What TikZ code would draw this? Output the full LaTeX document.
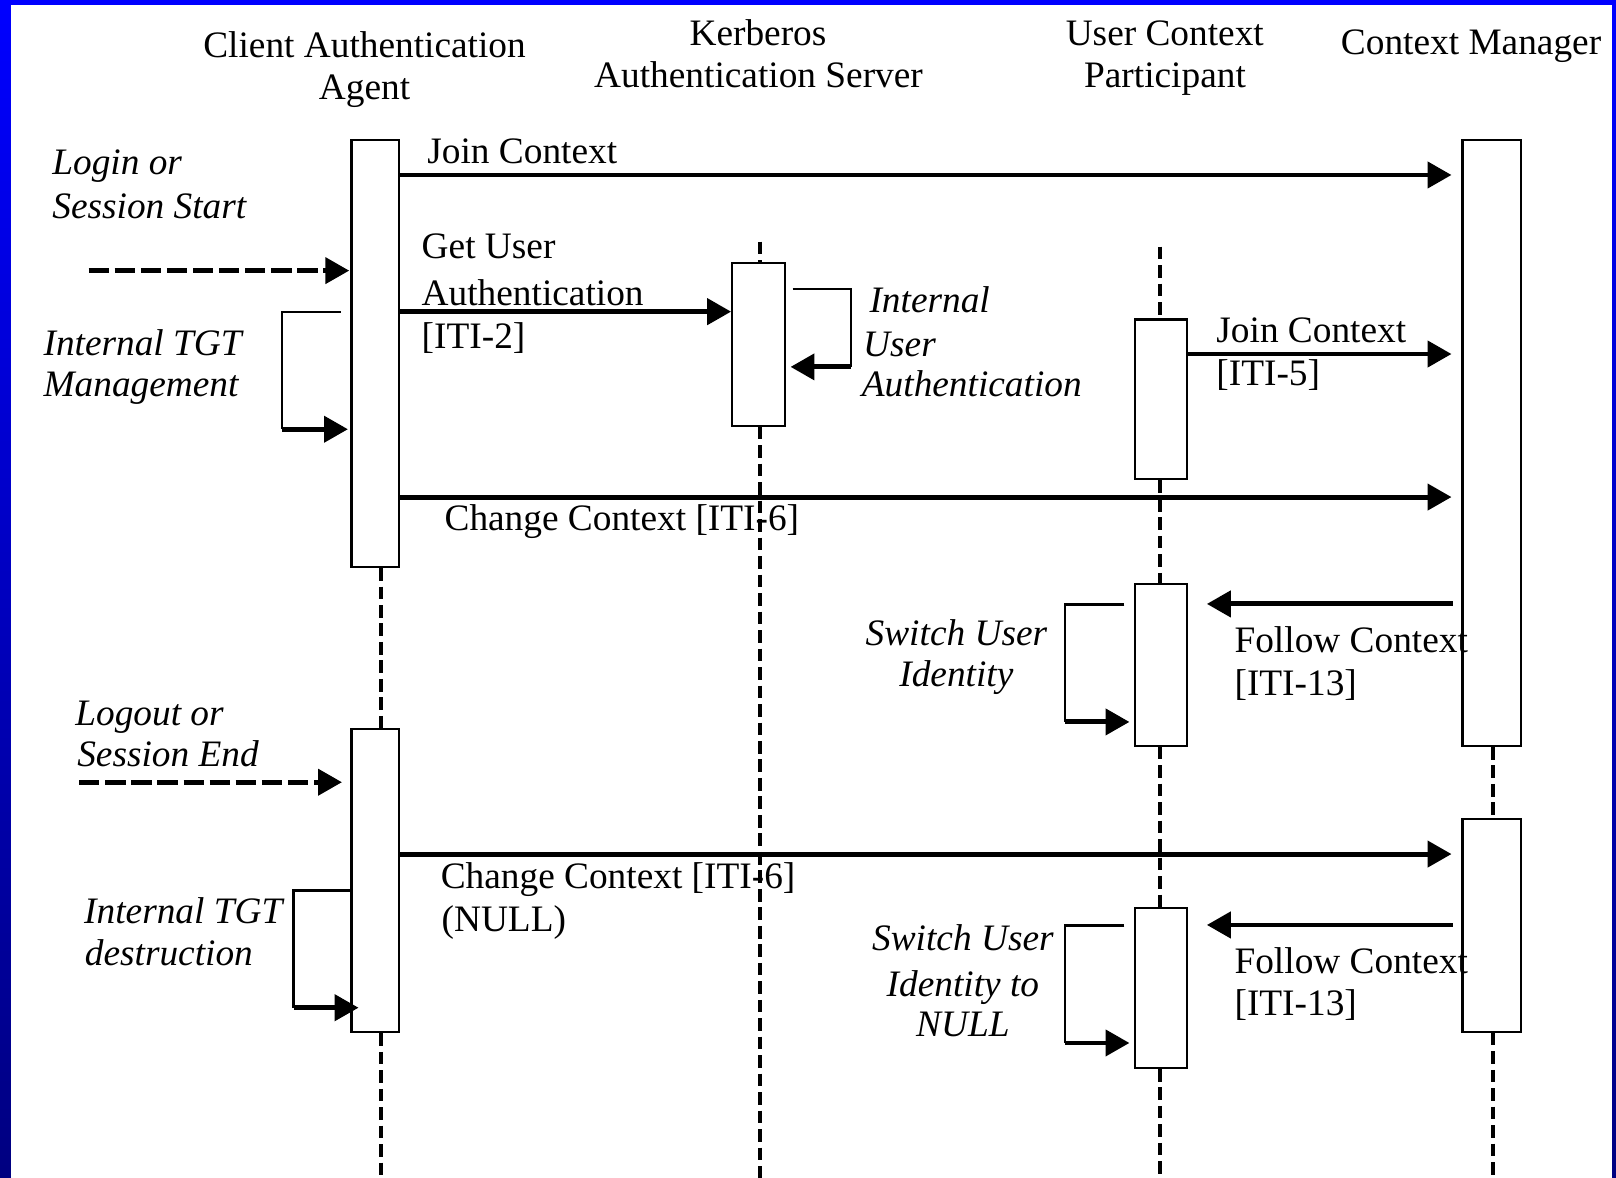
\documentclass[tikz,border=0pt]{standalone}
\usepackage{fontspec}
\setmainfont{Liberation Serif}
\usetikzlibrary{arrows.meta,calc}

\begin{document}
\begin{tikzpicture}[x=0.01cm,y=-0.01cm,
  txt/.style={font=\fontsize{10.3}{12}\selectfont, inner sep=0pt, anchor=base west},
  itxt/.style={txt, font=\fontsize{10.3}{12}\selectfont\itshape},
  head/.style={txt, anchor=base},
  ihead/.style={itxt, anchor=base},
  actbox/.style 2 args={draw, fill=white, line width=0.6pt, inner sep=0pt,
    minimum width=#1, minimum height=#2},
  lifeline/.style={line width=1.1pt, dash pattern=on 3.5pt off 1.6pt},
  msg/.style={line width=1.35pt, -{Triangle[length=6.6pt,width=7.1pt]}},
  dmsg/.style={msg, dash pattern=on 5.6pt off 1.6pt},
  loopline/.style={line width=0.6pt},
]
\useasboundingbox (0,0) rectangle (1568,1143);

% frame and page
\shade[top color={rgb,255:red,0;green,0;blue,255},
       bottom color={rgb,255:red,0;green,0;blue,128}] (0,0) rectangle (1568,1143);
\fill[white] (10.7,4.9) rectangle (1564.1,1143);

% participants
\node[head] (hCAA1) at (353.7,55.6) {Client Authentication};
\node[head] (hCAA2) at (353.7,97) {Agent};
\node[head] (hKAS1) at (735.5,43.7) {Kerberos};
\node[head] (hKAS2) at (736,84.7) {Authentication Server};
\node[head] (hUCP1) at (1130.2,43.7) {User Context};
\node[head] (hUCP2) at (1130.4,84.7) {Participant};
\node[head] (hCM) at (1427.4,52.7) {Context Manager};

% activation boxes
\node[actbox={0.46cm}{4.14cm}] (a1) at (364,343) {};
\node[actbox={0.46cm}{2.94cm}] (a2) at (364,854.5) {};
\node[actbox={0.515cm}{1.575cm}] (k1) at (736.25,334.25) {};
\node[actbox={0.51cm}{1.55cm}] (u1) at (1126.5,387.5) {};
\node[actbox={0.51cm}{1.565cm}] (u2) at (1126.5,645.25) {};
\node[actbox={0.51cm}{1.55cm}] (u3) at (1126.5,958.5) {};
\node[actbox={0.57cm}{5.875cm}] (m1) at (1447.5,429.75) {};
\node[actbox={0.57cm}{2.06cm}] (m2) at (1447.5,898) {};

% lifelines
\coordinate (bottom) at (0,1143);
\coordinate (kTop) at (737,234.5);
\coordinate (uTop) at (1126,239.4);
\draw[lifeline] ($(a1.south)+(5.5,0)$) -- ($(a2.north)+(5.5,0)$);
\draw[lifeline] ($(a2.south)+(5.5,0)$) -- ($(a2.south |- bottom)+(5.5,0)$);
\draw[lifeline] (kTop) -- (kTop |- k1.north);
\draw[lifeline] (kTop |- k1.south) -- (kTop |- bottom);
\draw[lifeline] (uTop) -- (uTop |- u1.north);
\draw[lifeline] (uTop |- u1.south) -- (uTop |- u2.north);
\draw[lifeline] (uTop |- u2.south) -- (uTop |- u3.north);
\draw[lifeline] (uTop |- u3.south) -- (uTop |- bottom);
\draw[lifeline] ($(m1.south)+(1,0)$) -- ($(m2.north)+(1,0)$);
\draw[lifeline] ($(m2.south)+(1,0)$) -- ($(m2.south |- bottom)+(1,0)$);

% session start
\node[itxt] (tLogin1) at (50.1,169.8) {Login or};
\node[itxt] (tLogin2) at (50.1,211.9) {Session Start};
\coordinate (login) at (86,262.6);
\draw[dmsg, shorten >=0.3pt] (login) -- (a1.west |- login);

% join context
\node[txt] (tJoin) at (414,158.5) {Join Context};
\draw[msg, shorten >=2.7pt] (a1.east |- 0,169.8) -- (m1.west |- 0,169.8);

% get user authentication
\node[txt] (tGet1) at (408.5,250.7) {Get User};
\node[txt] (tGet2) at (408.5,296) {Authentication};
\node[txt] (tGet3) at (408.5,337.8) {[ITI-2]};
\draw[msg] (a1.east |- 0,302.4) -- (k1.west |- 0,302.4);

% internal TGT management
\node[itxt] (tTgt1) at (41.6,344.5) {Internal TGT};
\node[itxt] (tTgt2) at (41.6,384.9) {Management};
\coordinate (tgtA) at (273.6,302.4);
\coordinate (tgtB) at (273.6,416.5);
\draw[loopline] ($(a1.west |- tgtA)+(-9.5,0)$) -- (tgtA) -- (tgtB);
\draw[msg] (tgtB) -- ($(a1.west |- tgtB)+(-2.3,0)$);

% internal user authentication
\node[itxt] (tIua1) at (843,303) {Internal};
\node[itxt] (tIua2) at (836.9,346) {User};
\node[itxt] (tIua3) at (835.6,384.9) {Authentication};
\coordinate (iuaA) at (825.5,280.4);
\coordinate (iuaB) at (825.5,356);
\draw[loopline] ($(k1.east |- iuaA)+(6,0)$) -- (iuaA) -- (iuaB);
\draw[msg] (iuaB) -- ($(k1.east |- iuaB)+(4,0)$);

% participant joins context
\node[txt] (tJoin5a) at (1179.6,332.5) {Join Context};
\node[txt] (tJoin5b) at (1179.6,373.6) {[ITI-5]};
\draw[msg, shorten >=2.7pt] (u1.east |- 0,343.5) -- (m1.west |- 0,343.5);

% change context
\node[txt] (tChg) at (430.7,514.3) {Change Context [ITI-6]};
\draw[msg, shorten >=2.7pt] (a1.east |- 0,482.3) -- (m1.west |- 0,482.3);

% follow context
\node[txt] (tFol1) at (1197.2,633.3) {Follow Context};
\node[txt] (tFol2) at (1197.2,674.4) {[ITI-13]};
\draw[msg, shorten <=2.4pt, shorten >=5.1pt] (m1.west |- 0,586) -- (u2.east |- 0,586);

% switch user identity
\node[ihead] (tSw1) at (928,625.9) {Switch User};
\node[ihead] (tSw2) at (928,666.3) {Identity};
\coordinate (swA) at (1033,586.5);
\coordinate (swB) at (1033,700.5);
\draw[loopline] ($(u2.west |- swA)+(-9,0)$) -- (swA) -- (swB);
\draw[msg] (swB) -- ($(u2.west |- swB)+(-4,0)$);

% session end
\node[itxt] (tOut1) at (72.4,703.5) {Logout or};
\node[itxt] (tOut2) at (74.3,743.9) {Session End};
\coordinate (logout) at (76.8,759);
\draw[dmsg, shorten >=2.3pt] (logout) -- (a2.west |- logout);

% change context to NULL
\node[txt] (tChgN1) at (427,862) {Change Context [ITI-6]};
\node[txt] (tChgN2) at (427.8,904) {(NULL)};
\draw[msg, shorten >=2.7pt] (a2.east |- 0,828.7) -- (m2.west |- 0,828.7);

% internal TGT destruction
\node[itxt] (tTd1) at (81,896) {Internal TGT};
\node[itxt] (tTd2) at (81.7,937.3) {destruction};
\coordinate (tdA) at (284.8,864);
\coordinate (tdB) at (284.8,977.8);
\draw[loopline] ($(a2.west |- tdA)+(2.5,0)$) -- (tdA) -- (tdB);
\draw[msg] (tdB) -- ($(a2.west |- tdB)+(8,0)$);

% follow context (NULL)
\node[txt] (tFolN1) at (1197.2,944.4) {Follow Context};
\node[txt] (tFolN2) at (1197.2,984.9) {[ITI-13]};
\draw[msg, shorten <=2.4pt, shorten >=5.1pt] (m2.west |- 0,897.5) -- (u3.east |- 0,897.5);

% switch user identity to NULL
\node[ihead] (tSwN1) at (934.3,921.8) {Switch User};
\node[ihead] (tSwN2) at (934.3,967) {Identity to};
\node[ihead] (tSwN3) at (934.3,1005.9) {NULL};
\coordinate (sw2A) at (1033,898);
\coordinate (sw2B) at (1033,1012);
\draw[loopline] ($(u3.west |- sw2A)+(-9,0)$) -- (sw2A) -- (sw2B);
\draw[msg] (sw2B) -- ($(u3.west |- sw2B)+(-4,0)$);

\end{tikzpicture}
\end{document}
